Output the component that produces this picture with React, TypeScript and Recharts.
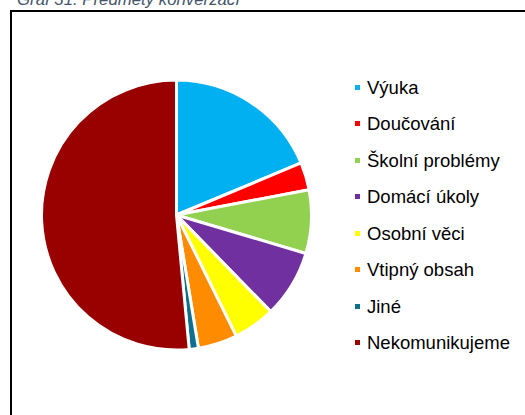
import React from 'react';
import { PieChart, Pie, Cell, Legend } from 'recharts';

const categories = [
  'Výuka',
  'Doučování',
  'Školní problémy',
  'Domácí úkoly',
  'Osobní věci',
  'Vtipný obsah',
  'Jiné',
  'Nekomunikujeme',
];
const values = [18.7, 3.3, 7.6, 8.1, 5.0, 4.7, 1.1, 51.5];
const colors = ['#00B0F0', '#FF0000', '#92D050', '#7030A0', '#FFFF00', '#FF8C00', '#0E6F8F', '#990000'];
const title = 'Graf 31: Předměty konverzací';

const data = categories.map((name, i) => ({ name, value: values[i] }));

const ROW = 36.5;

const renderLegend = () => (
  <div style={{ fontFamily: '"Liberation Sans", Arial, sans-serif', fontSize: 18.5, color: '#000' }}>
    {categories.map((c, i) => (
      <div key={c} style={{ height: ROW, lineHeight: `${ROW}px`, position: 'relative', whiteSpace: 'nowrap' }}>
        <span
          style={{
            position: 'absolute',
            left: 0,
            top: ROW / 2 - 3.5,
            width: 5,
            height: 5,
            background: colors[i],
          }}
        />
        <span style={{ position: 'absolute', left: 12, top: 0 }}>{c}</span>
      </div>
    ))}
  </div>
);

export default function App() {
  return (
    <div style={{ position: 'absolute', left: 0, top: 0, width: 525, height: 415, overflow: 'hidden', background: '#fff' }}>
      <div
        style={{
          position: 'absolute',
          left: 17,
          top: -9.5,
          fontFamily: '"Liberation Sans", Arial, sans-serif',
          fontStyle: 'italic',
          fontSize: 16.8,
          lineHeight: '17px',
          color: '#44546A',
          whiteSpace: 'nowrap',
        }}
      >
        {title}
      </div>
      <div
        style={{
          position: 'absolute',
          left: 10,
          top: 10,
          width: 600,
          height: 500,
          border: '2px solid #000',
        }}
      />
      <div style={{ position: 'absolute', left: 0, top: 0 }}>
        <PieChart width={525} height={415} margin={{ top: 0, right: 0, bottom: 0, left: 0 }}>
          <Pie
            data={data}
            dataKey="value"
            nameKey="name"
            cx={176.5}
            cy={215}
            outerRadius={135}
            startAngle={90}
            endAngle={-270}
            stroke="#fff"
            strokeWidth={3}
            isAnimationActive={false}
          >
            {data.map((d, i) => (
              <Cell key={d.name} fill={colors[i]} />
            ))}
          </Pie>
          <Legend
            content={renderLegend}
            wrapperStyle={{ position: 'absolute', left: 355, top: 69.75, width: 170, height: 300 }}
          />
        </PieChart>
      </div>
    </div>
  );
}
